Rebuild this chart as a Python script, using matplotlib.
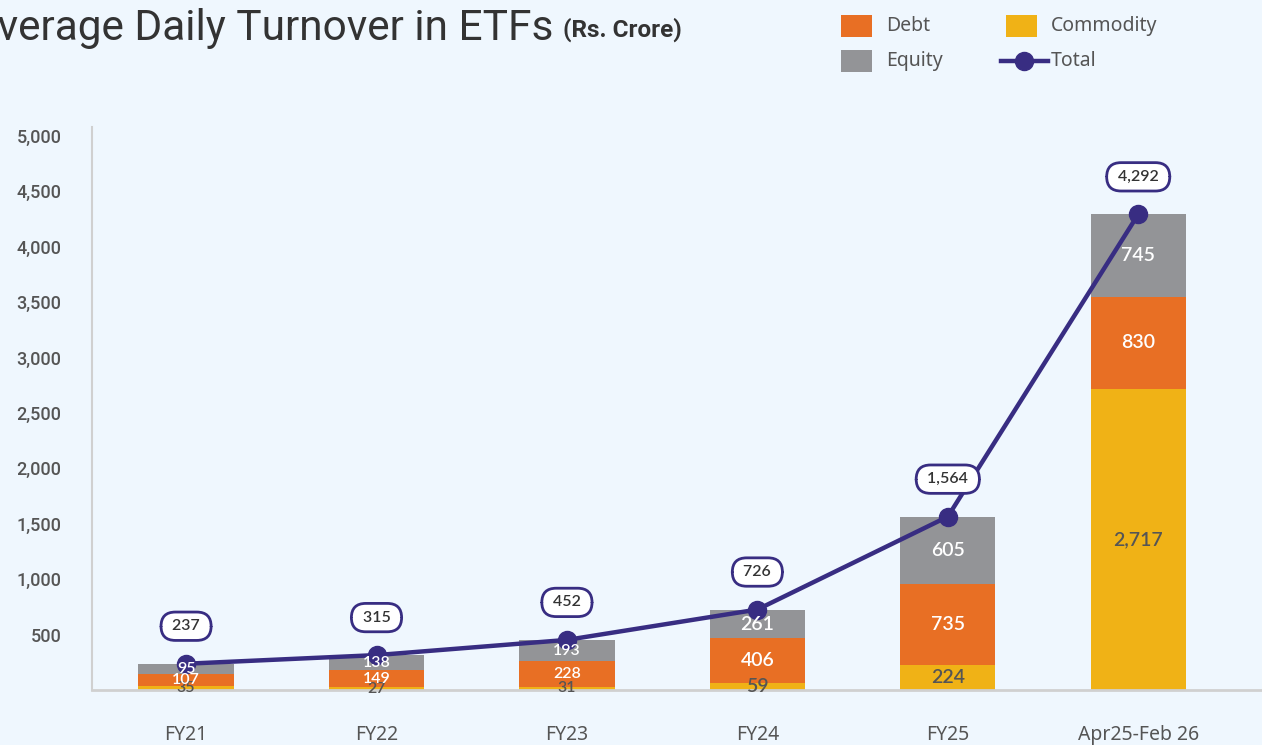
import matplotlib
matplotlib.use('Agg')
import matplotlib.pyplot as plt
from matplotlib.patches import Rectangle
from matplotlib.lines import Line2D
import matplotlib.transforms as mtransforms
import numpy as np

# ETF turnover data (Rs. crore)
periods = ['FY21', 'FY22', 'FY23', 'FY24', 'FY25', 'Apr25-Feb 26']
commodity = [35, 27, 31, 59, 224, 2717]
debt = [107, 149, 228, 406, 735, 830]
equity = [95, 138, 193, 261, 605, 745]
total = [237, 315, 452, 726, 1564, 4292]
yticks = [500, 1000, 1500, 2000, 2500, 3000, 3500, 4000, 4500, 5000]

bg = '#EFF7FE'
c_debt = '#E86F24'
c_comm = '#F0B216'
c_eq = '#939497'
c_navy = '#382D82'
c_text = '#555555'

W, H = 1262, 745
fig = plt.figure(figsize=(W / 100, H / 100), dpi=100, facecolor=bg)
ax = fig.add_axes([92 / W, 1 - 690 / H, 1 - 92 / W, (690 - 127) / H])
ax.set_facecolor(bg)

x = np.arange(len(periods))
w = 0.5
comm = np.array(commodity)
deb = np.array(debt)
eq = np.array(equity)

ax.bar(x, comm, w, color=c_comm, zorder=2)
ax.bar(x, deb, w, bottom=comm, color=c_debt, zorder=2)
ax.bar(x, eq, w, bottom=comm + deb, color=c_eq, zorder=2)

# total line with boxed labels
ax.plot(x, total, color=c_navy, lw=3.2, marker='o', ms=13, zorder=4)
for i in range(len(x)):
    ax.annotate(f' {total[i]:,} ', (x[i], total[i]), xytext=(0, 27), textcoords='offset points',
                ha='center', va='center', fontsize=11.5, color='#333333', family='Lato',
                weight='semibold',
                bbox=dict(boxstyle='round,pad=0.45,rounding_size=0.9', fc='white',
                          ec=c_navy, lw=2), zorder=5)

# segment labels (drawn over the line)
for i in range(len(x)):
    fs = 11.5 if total[i] < 500 else 14
    kw = dict(ha='center', va='center', fontsize=fs, family='Lato', weight='semibold', zorder=6)
    ax.text(x[i], comm[i] / 2, f'{commodity[i]:,}', color=c_text, **kw)
    ax.text(x[i], comm[i] + deb[i] / 2, f'{debt[i]:,}', color='white', **kw)
    ax.text(x[i], comm[i] + deb[i] + eq[i] / 2, f'{equity[i]:,}', color='white', **kw)

ax.set_xlim(-0.494, 5.65)
ax.set_ylim(0, 5080)
ax.set_yticks(yticks)
ax.set_yticklabels([f'{v:,}' for v in yticks], family='Roboto', weight='medium',
                   fontsize=13, color=c_text)
# nudge the y labels up a little
shift = mtransforms.ScaledTranslation(0, 4 / 100, fig.dpi_scale_trans)
for lab in ax.get_yticklabels():
    lab.set_transform(lab.get_transform() + shift)
ax.set_xticks(x)
ax.set_xticklabels(periods, family='Noto Sans', fontsize=14, color=c_text)
ax.tick_params(axis='both', length=0)
ax.tick_params(axis='y', pad=22)
ax.tick_params(axis='x', pad=25)
for s in ['top', 'right']:
    ax.spines[s].set_visible(False)
ax.spines['left'].set_color('#d0d0d0')
ax.spines['bottom'].set_color('#d0d0d0')
ax.spines['left'].set_linewidth(1.5)
ax.spines['bottom'].set_linewidth(2)

# title
fig.text(553 / W, 1 - 40 / H, 'Average Daily Turnover in ETFs', ha='right', va='baseline',
         fontsize=30.5, color='#333333', family='Roboto')
fig.text(563 / W, 1 - 37 / H, '(Rs. Crore)', ha='left', va='baseline',
         fontsize=17.5, color='#333333', family='Roboto', weight='bold')

# legend, drawn by hand in figure pixels
def fpx(px, py):
    return px / W, 1 - py / H

for (x0, y0, col, name) in [(841, 15, c_debt, 'Debt'), (841, 50, c_eq, 'Equity'),
                            (1006, 15, c_comm, 'Commodity')]:
    fx, fy = fpx(x0, y0 + 22)
    fig.add_artist(Rectangle((fx, fy), 31 / W, 22 / H, transform=fig.transFigure,
                             color=col, lw=0))
    tx, ty = fpx(x0 + 45, y0 + 11)
    fig.text(tx, ty, name, ha='left', va='center', fontsize=14, color=c_text, family='Noto Sans')

lx0, ly = fpx(1001, 61)
lx1, _ = fpx(1048, 61)
fig.add_artist(Line2D([lx0, lx1], [ly, ly], transform=fig.transFigure, color=c_navy, lw=3.2))
fig.add_artist(Line2D([fpx(1024, 61)[0]], [ly], transform=fig.transFigure, color=c_navy,
                      marker='o', ms=13, lw=0))
tx, ty = fpx(1051, 61)
fig.text(tx, ty, 'Total', ha='left', va='center', fontsize=14, color=c_text, family='Noto Sans')

fig.savefig('out.png', dpi=100, facecolor=bg)
